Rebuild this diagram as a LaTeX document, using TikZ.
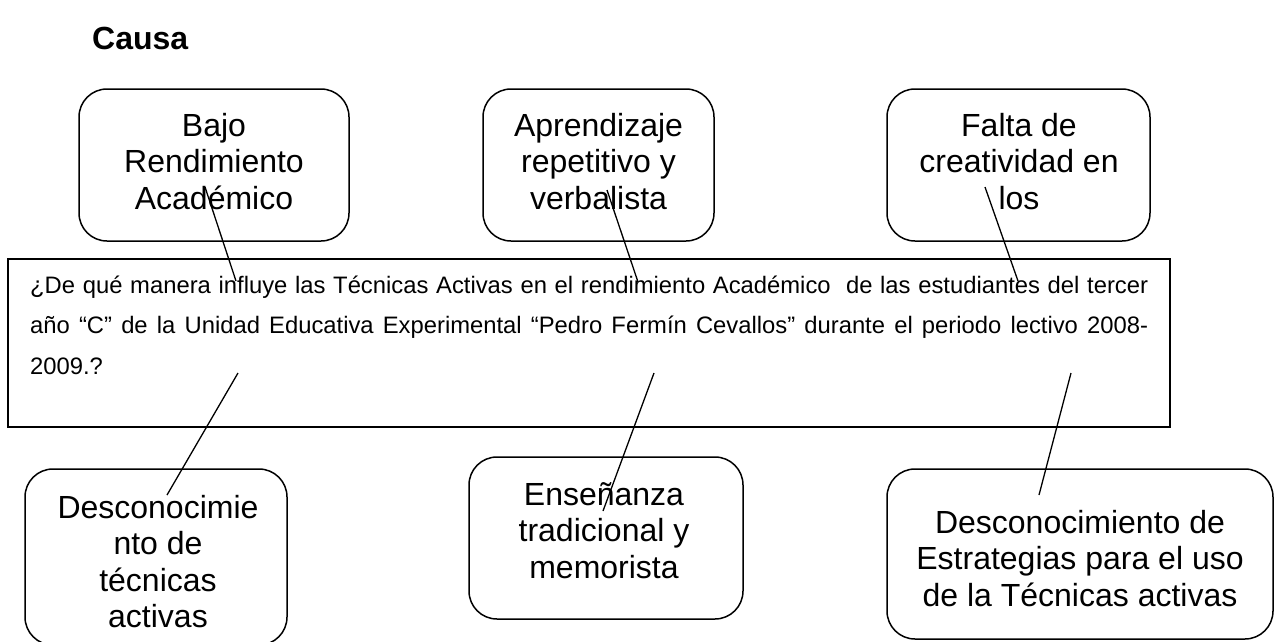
\documentclass[tikz,border=0pt]{standalone}
\usepackage{fontspec}
\setmainfont{Liberation Sans}
\newcommand\boxlines[1]{\begin{tabular}[t]{@{}c@{}}#1\end{tabular}}
\begin{document}
\begin{tikzpicture}[x=1pt,y=-1pt,
  cbox/.style={draw, line width=1.5pt, rounded corners=28pt, inner sep=0pt},
  qbox/.style={draw, line width=1.7pt, inner sep=0pt},
  txt/.style={inner sep=0pt, anchor=base, font=\fontsize{32}{36.5}\selectfont},
  qtxt/.style={inner sep=0pt, anchor=base west, font=\fontsize{23.8}{40.5}\selectfont},
  link/.style={line width=1.3pt}]
\useasboundingbox (0,0) rectangle (1278,641);
\fill[white] (0,0) rectangle (1278,641);

\node[inner sep=0pt, anchor=base west, font=\bfseries\fontsize{32}{38}\selectfont] (causa) at (92,49) {Causa};

% top boxes
\node[cbox, minimum width=270pt, minimum height=152pt] (b1) at (214,165) {};
\node[cbox, minimum width=231pt, minimum height=152pt] (b2) at (598.5,165) {};
\node[cbox, minimum width=263pt, minimum height=152pt] (b3) at (1018.5,165) {};
\node[txt] (t1) at (214,136) {\boxlines{Bajo\\Rendimiento\\Académico}};
\node[txt] (t2) at (598.5,136) {\boxlines{Aprendizaje\\repetitivo y\\verbalista}};
\node[txt] (t3) at (1019,136) {\boxlines{Falta de\\creatividad en\\los}};

% question box
\node[qbox, minimum width=1162pt, minimum height=168pt] (q) at (589,343) {};
\node[qtxt] (qt) at (30,293) {\begin{tabular}[t]{@{}l@{}}%
\makebox[1118pt][s]{¿De qué manera influye las Técnicas Activas en el rendimiento Académico\ \ de las estudiantes del tercer}\\
\makebox[1118pt][s]{año “C” de la Unidad Educativa Experimental “Pedro Fermín Cevallos” durante el periodo lectivo 2008-}\\
2009.?\end{tabular}};

% bottom boxes
\node[cbox, minimum width=262pt, minimum height=176pt] (c1) at (156,557) {};
\node[cbox, minimum width=274pt, minimum height=162pt] (c2) at (606,538) {};
\node[cbox, minimum width=386pt, minimum height=170pt] (c3) at (1080,554) {};
\node[txt] (u1) at (158,518) {\boxlines{Desconocimie\\nto de\\técnicas\\activas}};
\node[txt] (u2) at (604,505) {\boxlines{Enseñanza\\tradicional y\\memorista}};
\node[txt] (u3) at (1080,533) {\boxlines{Desconocimiento de\\Estrategias para el uso\\de la Técnicas activas}};

% connector end points
\coordinate (a1) at (205,187);  \coordinate (a1e) at (236,281);
\coordinate (a2) at (607,190);  \coordinate (a2e) at (638,282);
\coordinate (a3) at (985,187);  \coordinate (a3e) at (1018,281);
\coordinate (d1) at (238,373);  \coordinate (d1e) at (167,495);
\coordinate (d2) at (654,373);  \coordinate (d2e) at (603,511);
\coordinate (d3) at (1071,373); \coordinate (d3e) at (1039,495);

\draw[link] (a1) -- (a1e);
\draw[link] (a2) -- (a2e);
\draw[link] (a3) -- (a3e);
\draw[link] (d1) -- (d1e);
\draw[link] (d2) -- (d2e);
\draw[link] (d3) -- (d3e);
\end{tikzpicture}
\end{document}
